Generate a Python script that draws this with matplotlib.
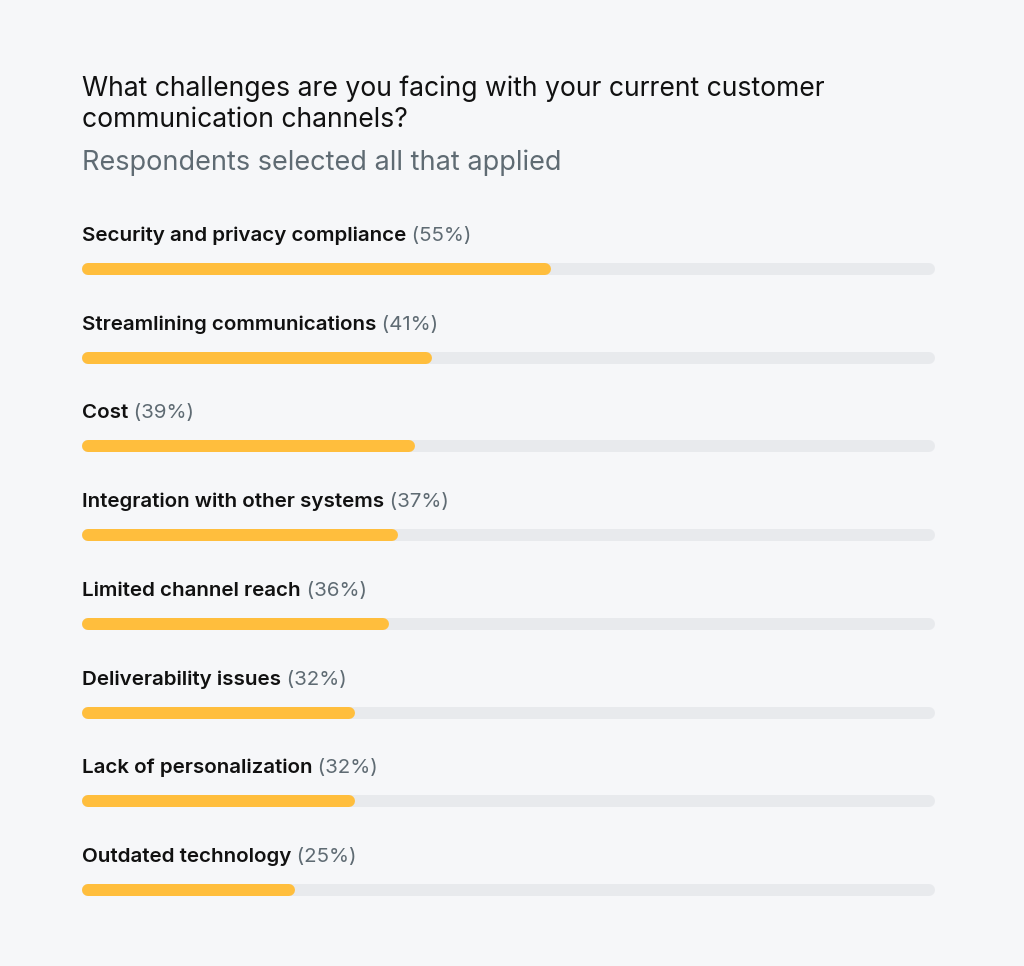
import matplotlib
matplotlib.use("Agg")
import matplotlib.pyplot as plt

categories = ["Security and privacy compliance", "Streamlining communications", "Cost",
              "Integration with other systems", "Limited channel reach", "Deliverability issues",
              "Lack of personalization", "Outdated technology"]
values = [55, 41, 39, 37, 36, 32, 32, 25]
title = "What challenges are you facing with your current customer\ncommunication channels?"
subtitle = "Respondents selected all that applied"

BG = "#f6f7f9"
W, H = 1024, 966
fig = plt.figure(figsize=(W/100, H/100), dpi=100, facecolor=BG)
ax = fig.add_axes([82/W, 0, 853/W, 1])
ax.set_facecolor(BG)
ax.set_xlim(0, 100)
ax.set_ylim(H, 0)
ax.axis("off")

fig.text(82/W, 1-104/H, title, fontsize=19.1, family="Inter", color="#111111",
         va="center", ha="left", linespacing=1.25)
fig.text(82/W, 1-163/H, subtitle, fontsize=19.5, family="Inter", color="#5f6b73",
         va="center", ha="left")

lw = 12 * 72 / 100
cap = 6 / 853 * 100
for i, (c, v) in enumerate(zip(categories, values)):
    y = 269 + i * 88.7
    ax.plot([cap, 100 - cap], [y, y], color="#e8eaed", lw=lw, solid_capstyle="round")
    ax.plot([cap, v - cap], [y, y], color="#ffbe3d", lw=lw, solid_capstyle="round")
    t = ax.text(0, y - 33, c, fontsize=14.8, family="Inter", fontweight="semibold",
                color="#111111", va="center", ha="left")
    ax.annotate(f" ({v}%)", xy=(1, 0), xycoords=t, va="bottom", ha="left",
                fontsize=14.8, family="Inter", color="#5f6b73")

fig.savefig("out.png", dpi=100, facecolor=BG)
